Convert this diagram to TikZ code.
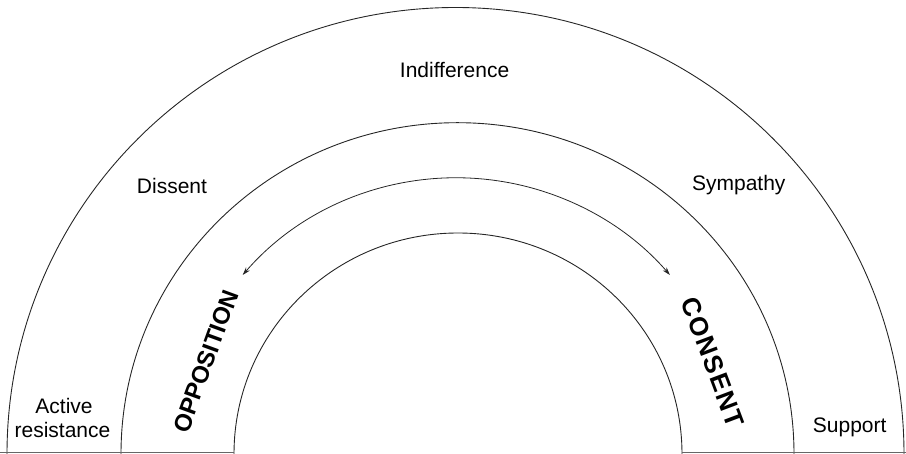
\documentclass[tikz,border=0pt]{standalone}
\usepackage{fontspec}
\setmainfont{Liberation Sans}
\usetikzlibrary{arrows.meta}
\begin{document}
\begin{tikzpicture}[x=1pt,y=1pt,
  band/.style={line width=0.9pt, draw=black!85},
  baseln/.style={line width=0.8pt, draw=black!60},
  lbl/.style={font=\fontsize{21}{23.5}\selectfont, inner sep=0pt, anchor=base},
  big/.style={font=\bfseries\fontsize{24}{26}\selectfont, inner sep=0pt},
  biggr/.style={font=\bfseries\fontsize{26}{28}\selectfont, inner sep=0pt}]
\useasboundingbox (0,0) rectangle (906,454);
% bands
\draw[band] (7,0) arc[start angle=180,end angle=0,x radius=448.5,y radius=446.5];
\draw[band] (121,0) arc[start angle=180,end angle=0,x radius=336.5,y radius=331.3];
\draw[band] (234,0) arc[start angle=180,end angle=0,x radius=224,y radius=221];
% base line
\draw[baseln] (0,1.2) -- (234,1.2);
\draw[baseln] (682,1.2) -- (906,1.2);
% double arrow
\coordinate (al) at (242.7,179);
\draw[line width=0.8pt, draw=black!85, {Stealth[length=8pt,width=5pt]}-{Stealth[length=8pt,width=5pt]}]
  (al) arc[start angle=139.6,end angle=40.4,x radius=280.5,y radius=276.3];
% labels
\node[lbl] (ind) at (454.6,376.7) {Indifference};
\node[lbl] (dis) at (172,260.7) {Dissent};
\node[lbl] (sym) at (738.8,263) {Sympathy};
\node[lbl] (act) at (64,40.7) {Active};
\node[lbl] (res) at (62.5,16.7) {resistance};
\node[lbl] (sup) at (849.7,21) {Support};
\node[big, rotate=70] (opp) at (205.8,92.7) {OPPOSITION};
\node[biggr, rotate=-69.4] (con) at (712.8,91.8)
  {C\kern1.6pt O\kern1.6pt N\kern1.6pt S\kern1.6pt E\kern1.6pt N\kern1.6pt T};
\end{tikzpicture}
\end{document}
